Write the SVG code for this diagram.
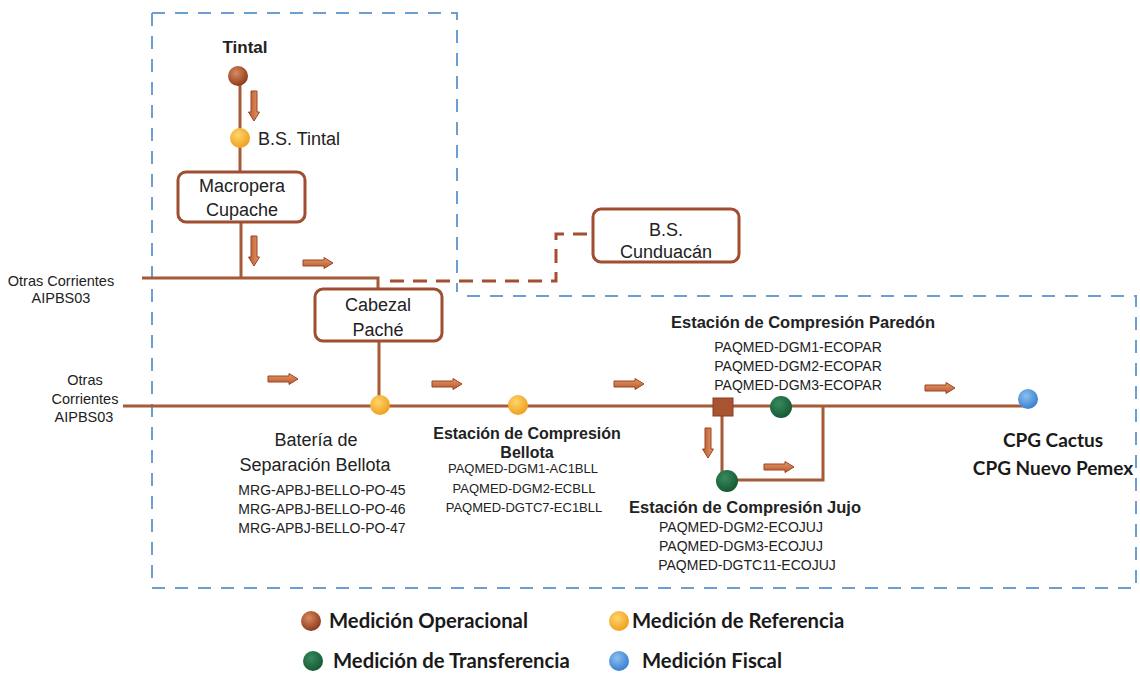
<svg xmlns="http://www.w3.org/2000/svg" width="1140" height="674" viewBox="0 0 1140 674">
<style>
.ln{stroke:#a65a38;stroke-width:3;fill:none}
.dsh{stroke:#a34f30;stroke-width:3;fill:none;stroke-dasharray:14 9}
.blue{stroke:#6b9fd1;stroke-width:2;fill:none;stroke-dasharray:13 10}
.box{fill:#fff;stroke:#a04d30;stroke-width:3}
.t{font-family:"Liberation Sans",Arial,sans-serif;fill:#222;text-anchor:middle}
.lab{font-size:18px}
.code{font-size:13px}
.code14{font-size:14px}
.side{font-size:14.5px}
.tb{font-weight:bold;font-size:16px}
.cal{font-family:Lato,"Open Sans",sans-serif;font-weight:bold;fill:#1a1a1a}
.leg{font-size:20.3px}
</style>
<defs>
<radialGradient id="gBrown" cx="40%" cy="35%" r="65%"><stop offset="0" stop-color="#d98a60"/><stop offset="1" stop-color="#8e3b1c"/></radialGradient>
<radialGradient id="gYellow" cx="40%" cy="35%" r="65%"><stop offset="0" stop-color="#ffd56a"/><stop offset="1" stop-color="#f0a020"/></radialGradient>
<radialGradient id="gGreen" cx="40%" cy="35%" r="65%"><stop offset="0" stop-color="#3a8a5e"/><stop offset="1" stop-color="#145a34"/></radialGradient>
<radialGradient id="gBlue" cx="40%" cy="35%" r="65%"><stop offset="0" stop-color="#8cc0f0"/><stop offset="1" stop-color="#3a80d0"/></radialGradient>
<linearGradient id="gArr" x1="0" y1="0" x2="0" y2="1"><stop offset="0" stop-color="#e59a6a"/><stop offset="1" stop-color="#b8582c"/></linearGradient>
<path id="arr" d="M0,-3 H21 V-5.5 L30,0 L21,5.5 V3 H0 Z" fill="url(#gArr)" stroke="#9a4424" stroke-width="1"/>
</defs>
<rect width="1140" height="674" fill="#fff"/>

<g id="boundary">
<path class="blue" d="M152,13 H457 V292"/>
<path class="blue" d="M152,13 V588 H1136 V296 H463"/>
</g>

<g id="connectors">
<path class="ln" d="M240,76 V172"/>
<path class="ln" d="M241,222 V278"/>
<path class="ln" d="M142,278 H378 V289"/>
<path class="dsh" d="M390,281 H556 V234 H590"/>
<path class="ln" d="M379,341 V405"/>
<path class="ln" d="M123,406 H1028"/>
<path class="ln" d="M722,416 V480 H823 V406"/>
<use href="#arr" transform="translate(254,91) rotate(90)"/>
<use href="#arr" transform="translate(254,236) rotate(90)"/>
<use href="#arr" transform="translate(303,263)"/>
<use href="#arr" transform="translate(268,379)"/>
<use href="#arr" transform="translate(432,384)"/>
<use href="#arr" transform="translate(614,384)"/>
<use href="#arr" transform="translate(708,428) rotate(90)"/>
<use href="#arr" transform="translate(764,467)"/>
<use href="#arr" transform="translate(925,388)"/>
</g>

<g id="tintal">
<text class="t" x="245" y="53" style="font-size:17px;font-weight:bold">Tintal</text>
<circle cx="238" cy="76" r="10" fill="url(#gBrown)"/>
</g>
<g id="bs-tintal">
<circle cx="240" cy="138" r="10" fill="url(#gYellow)"/>
<text class="t lab" x="258" y="145" style="text-anchor:start">B.S. Tintal</text>
</g>
<g id="macropera">
<rect class="box" x="178" y="172" width="127" height="50" rx="8"/>
<text class="t lab" x="242" y="192">Macropera</text>
<text class="t lab" x="242" y="216">Cupache</text>
</g>
<g id="bs-cunduacan">
<rect class="box" x="593" y="209" width="146" height="53" rx="8"/>
<text class="t lab" x="666" y="236">B.S.</text>
<text class="t lab" x="666" y="258">Cunduacán</text>
</g>
<g id="cabezal">
<rect class="box" x="315" y="289" width="127" height="52" rx="8"/>
<text class="t lab" x="378" y="311">Cabezal</text>
<text class="t lab" x="378" y="336">Paché</text>
</g>
<g id="otras1">
<text class="t side" x="61" y="286">Otras Corrientes</text>
<text class="t side" x="61" y="303">AIPBS03</text>
</g>
<g id="otras2">
<text class="t side" x="85" y="385">Otras</text>
<text class="t side" x="85" y="404">Corrientes</text>
<text class="t side" x="84" y="422">AIPBS03</text>
</g>
<g id="bateria">
<circle cx="380" cy="405" r="10" fill="url(#gYellow)"/>
<text class="t lab" x="316" y="446">Batería de</text>
<text class="t lab" x="315" y="471">Separación Bellota</text>
<text class="t code14" x="322" y="495">MRG-APBJ-BELLO-PO-45</text>
<text class="t code14" x="322" y="514">MRG-APBJ-BELLO-PO-46</text>
<text class="t code14" x="322" y="533">MRG-APBJ-BELLO-PO-47</text>
</g>
<g id="ec-bellota">
<circle cx="518" cy="405" r="10" fill="url(#gYellow)"/>
<text class="t tb" x="527" y="439">Estación de Compresión</text>
<text class="t tb" x="527" y="458">Bellota</text>
<text class="t code" x="523" y="473">PAQMED-DGM1-AC1BLL</text>
<text class="t code" x="524" y="493">PAQMED-DGM2-ECBLL</text>
<text class="t code" x="524" y="512">PAQMED-DGTC7-EC1BLL</text>
</g>
<g id="ec-paredon">
<rect x="713" y="398" width="20" height="18" fill="#a85430" stroke="#8a3c20" stroke-width="1"/>
<circle cx="781" cy="407" r="11" fill="url(#gGreen)"/>
<text class="t tb" x="803" y="328" style="font-size:16.5px">Estación de Compresión Paredón</text>
<text class="t code14" x="798" y="352">PAQMED-DGM1-ECOPAR</text>
<text class="t code14" x="798" y="371">PAQMED-DGM2-ECOPAR</text>
<text class="t code14" x="798" y="390">PAQMED-DGM3-ECOPAR</text>
</g>
<g id="ec-jujo">
<circle cx="727" cy="481" r="11" fill="url(#gGreen)"/>
<text class="t tb" x="745" y="513" style="font-size:16.5px">Estación de Compresión Jujo</text>
<text class="t code14" x="741" y="532">PAQMED-DGM2-ECOJUJ</text>
<text class="t code14" x="741" y="551">PAQMED-DGM3-ECOJUJ</text>
<text class="t code14" x="747" y="570">PAQMED-DGTC11-ECOJUJ</text>
</g>
<g id="cpg">
<circle cx="1028" cy="399" r="10" fill="url(#gBlue)"/>
<text class="cal" x="1053" y="447" style="font-size:19px;text-anchor:middle">CPG Cactus</text>
<text class="cal" x="1053" y="475" style="font-size:19px;text-anchor:middle">CPG Nuevo Pemex</text>
</g>
<g id="legend">
<circle cx="311" cy="621" r="10" fill="url(#gBrown)"/>
<text class="cal leg" x="329" y="628">Medición Operacional</text>
<circle cx="619" cy="621" r="10" fill="url(#gYellow)"/>
<text class="cal leg" x="632" y="628">Medición de Referencia</text>
<circle cx="313" cy="661" r="10" fill="url(#gGreen)"/>
<text class="cal leg" x="333" y="668">Medición de Transferencia</text>
<circle cx="619" cy="661" r="10" fill="url(#gBlue)"/>
<text class="cal leg" x="642" y="668">Medición Fiscal</text>
</g>
</svg>
